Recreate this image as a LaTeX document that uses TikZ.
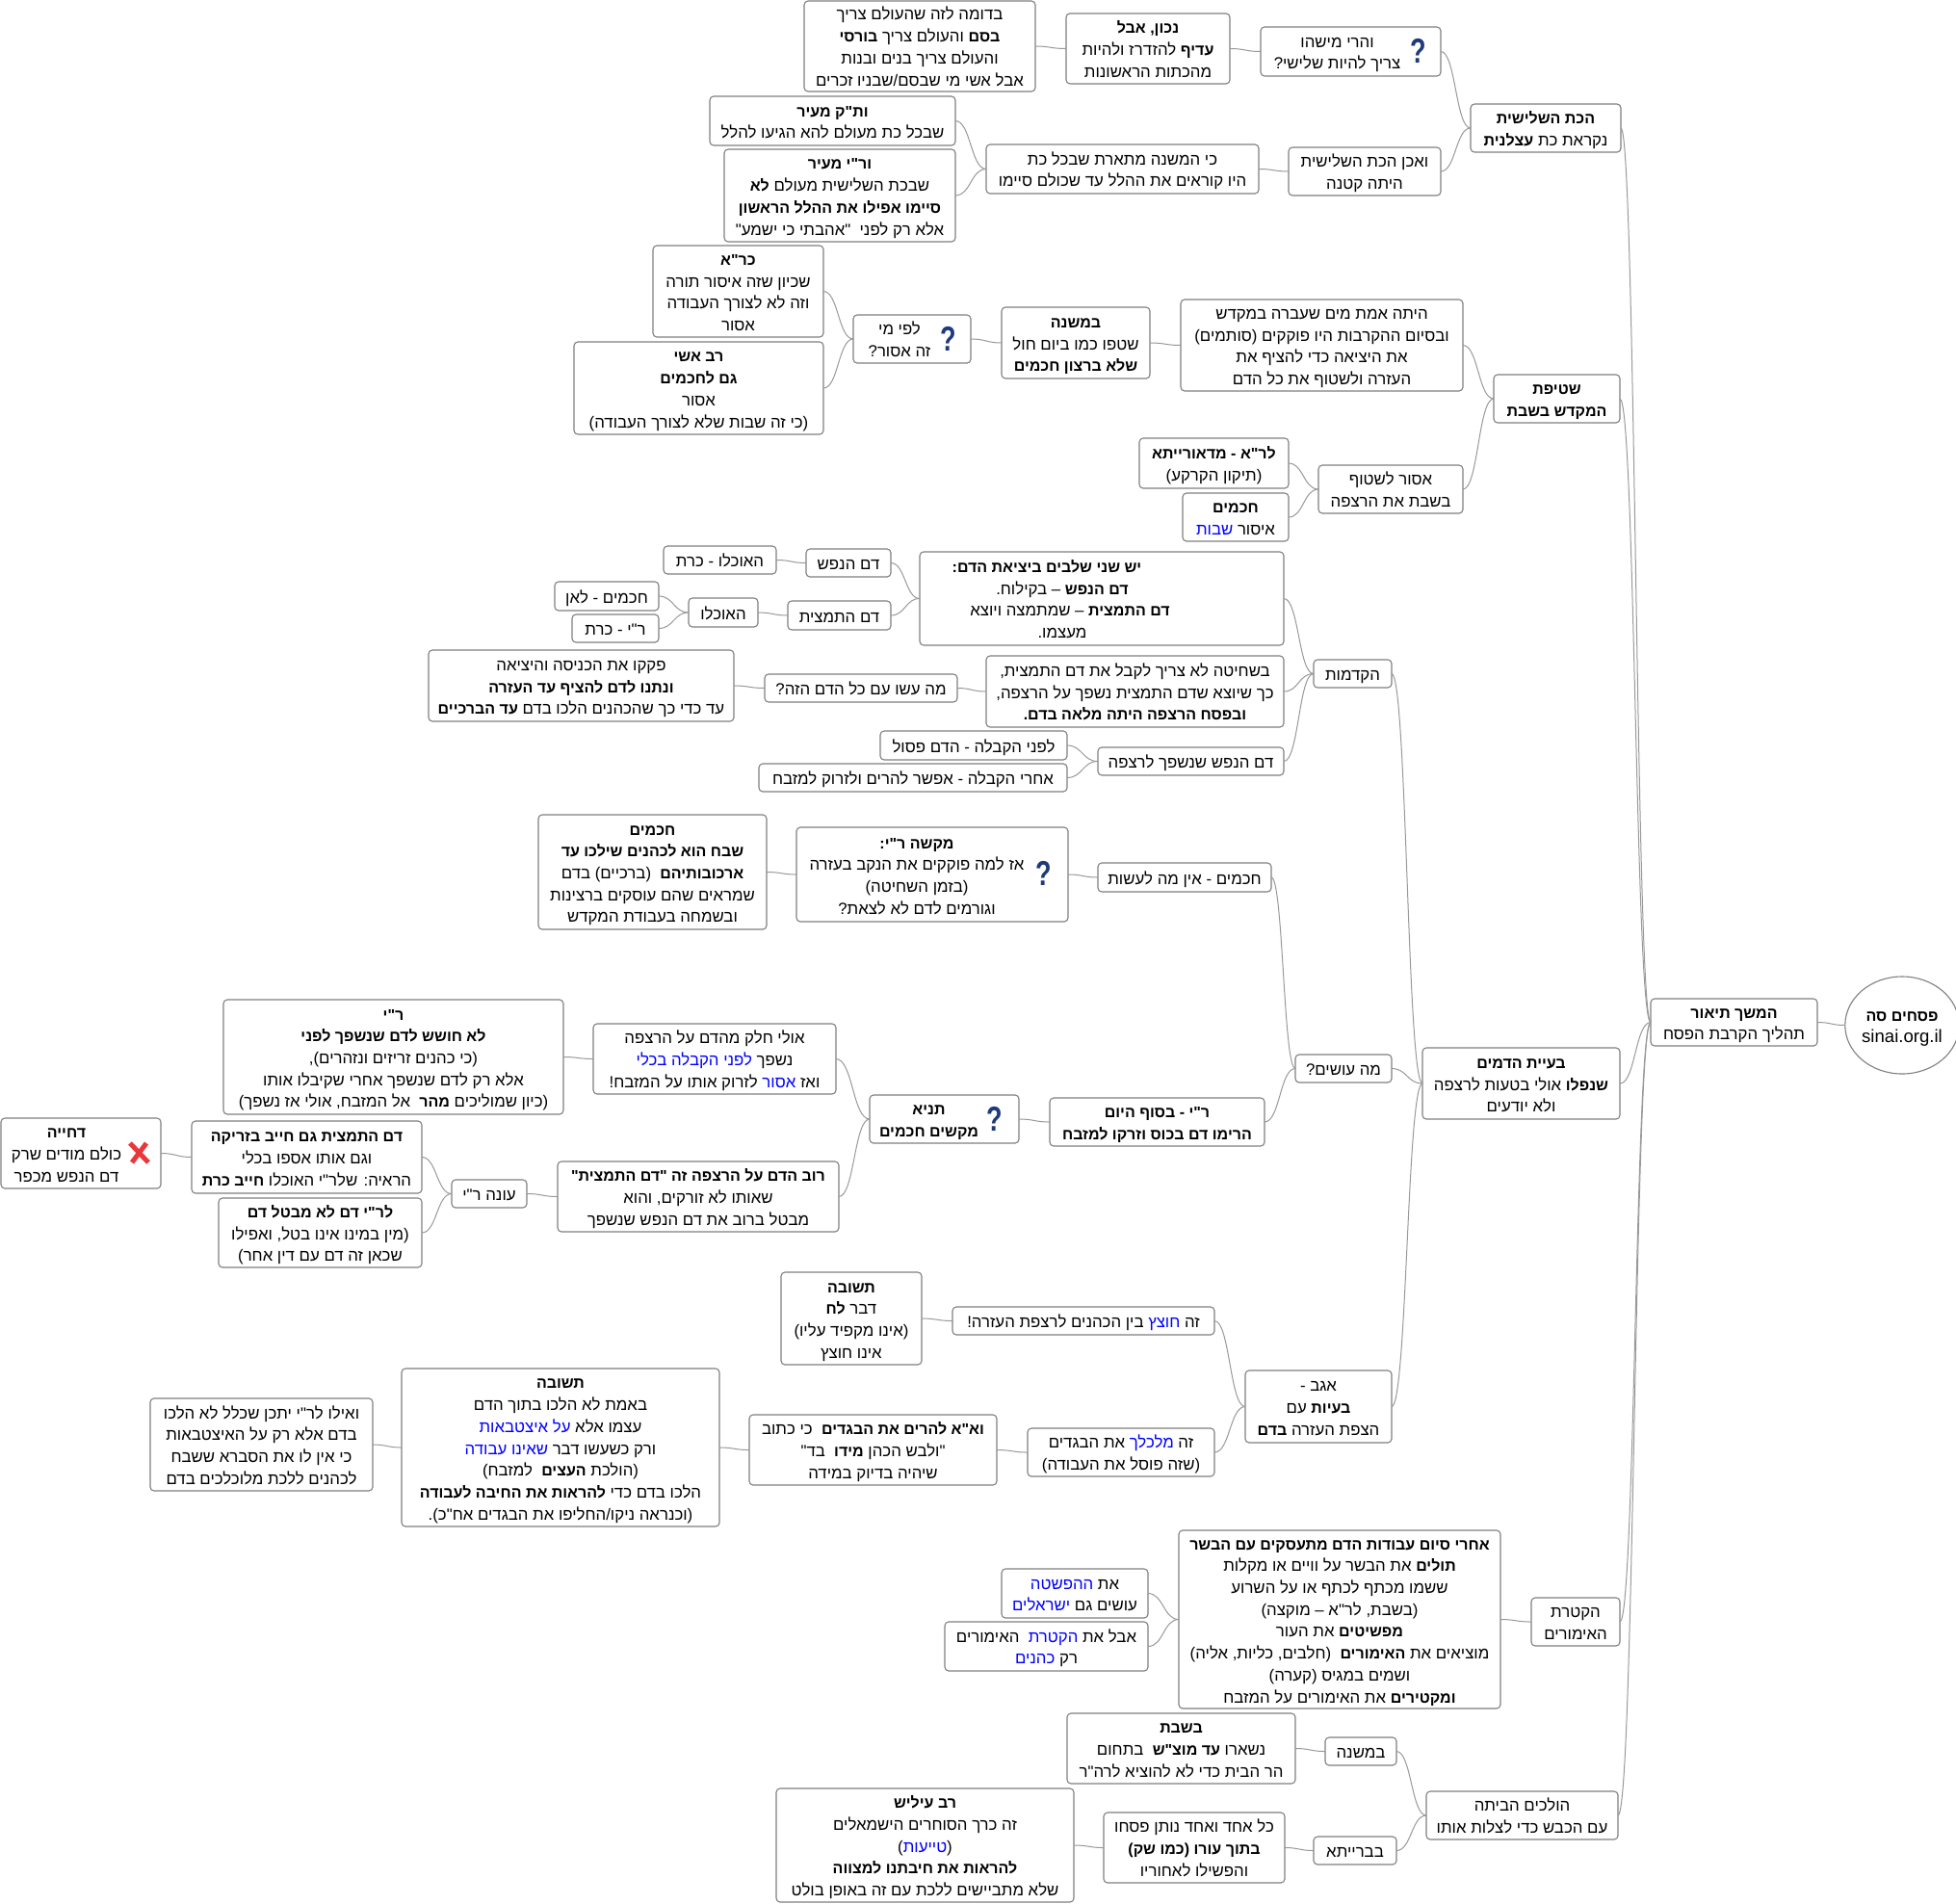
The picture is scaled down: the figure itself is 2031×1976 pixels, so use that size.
\documentclass[tikz,border=0pt]{standalone}
\usepackage{fontspec}
\newfontfamily\hebfont[Script=Hebrew]{Liberation Sans}
\usetikzlibrary{calc,shapes.geometric}
\TeXXeTstate=1
\definecolor{boxline}{HTML}{808080}
\definecolor{linkline}{HTML}{999999}
\definecolor{qblue}{HTML}{1F3A7A}
\definecolor{xred}{HTML}{E8383C}
\newcommand{\rl}[1]{\beginR #1\endR}
\newcommand{\hb}[1]{{\fontsize{16}{22.7}\selectfont\bfseries #1}}
% inside a right-to-left run the order of specials is reversed on output
\newcommand{\hc}[1]{\special{color pop}#1\special{color push rgb 0 0 1}}
\tikzset{
  mapbox/.style={draw=boxline,fill=white,line width=1.1pt,rounded corners=4pt,inner sep=0pt,outer sep=0pt,
    text=black,font=\hebfont\fontsize{16.8}{22.7}\selectfont},
  rootnode/.style={ellipse,draw=boxline,fill=white,line width=1.1pt,inner sep=0pt,outer sep=0pt,
    font=\hebfont\fontsize{16}{22.7}\selectfont},
  linkline/.style={draw=linkline,line width=1pt},
  qmark/.style={text=qblue,inner sep=0pt,xscale=0.75,font=\hebfont\fontsize{36}{36}\selectfont\bfseries},
  xmark/.style={draw=xred,line width=5pt}
}
\newcommand{\bx}[6][0]{%
  \pgfmathsetmacro\bw{#5-#3}\pgfmathsetmacro\bh{#6-#4}%
  \pgfmathsetmacro\cx{(#3+#5)/2}\pgfmathsetmacro\cy{(#4+#6)/2}%
  \node[mapbox,minimum width=\bw pt,minimum height=\bh pt] (#2) at (\cx,\cy) {\bxbody{#1}};}
\newcommand{\bxbody}[1]{\raisebox{-2.5pt}[\height][\depth]{\begin{tabular}{@{}c@{}}\bxtext\end{tabular}}\kern\dimexpr#1pt*2\relax}
\newcommand{\lnk}[2]{\draw[linkline] let \p1=(#1.east),\p2=(#2.west),\n1={(\x2-\x1)*0.5} in (#1.east) .. controls +(\n1,0) and +(-\n1,0) .. (#2.west);}
\newcommand{\tb}[7][0]{\def\bxtext{#7}\bx[#1]{#2}{#3}{#4}{#5}{#6}}
\begin{document}
\begin{tikzpicture}[x=1pt,y=-1pt]
\useasboundingbox[fill=white] (0,0) rectangle (2031,1976);
\tb{a1}{835}{1}{1075}{95}{\rl{בדומה לזה שהעולם צריך}\\\rl{\hb{בסם} והעולם צריך \hb{בורסי}}\\\rl{והעולם צריך בנים ובנות}\\\rl{אבל אשי מי שבסם/שבניו זכרים}}
\tb{a2}{1107}{14}{1277}{87}{\rl{\hb{נכון, אבל}}\\\rl{\hb{עדיף} להזדרז ולהיות}\\\rl{מהכתות הראשונות}}
\tb[14]{a3}{1309}{28}{1496}{79}{\rl{והרי מישהו}\\\rl{צריך להיות שלישי?}}
\tb{a4}{1527}{108}{1683}{158}{\rl{\hb{הכת השלישית}}\\\rl{נקראת כת \hb{עצלנית}}}
\tb{b1}{737}{100}{992}{151}{\rl{\hb{ות"ק מעיר}}\\\rl{שבכל כת מעולם להא הגיעו להלל}}
\tb{b2}{752}{155}{992}{251}{\rl{\hb{ור"י מעיר}}\\\rl{שבכת השלישית מעולם \hb{לא}}\\\rl{\hb{סיימו אפילו את ההלל הראשון}}\\\rl{אלא רק לפני~~"אהבתי כי ישמע"}}
\tb{b3}{1024}{150}{1307}{201}{\rl{כי המשנה מתארת שבכל כת}\\\rl{היו קוראים את ההלל עד שכולם סיימו}}
\tb{b4}{1338}{153}{1496}{203}{\rl{ואכן הכת השלישית}\\\rl{היתה קטנה}}
\tb{c1}{678}{255}{855}{350}{\rl{\hb{כר"א}}\\\rl{שכיון שזה איסור תורה}\\\rl{וזה לא לצורך העבודה}\\\rl{אסור}}
\tb{c2}{596}{355}{855}{451}{\rl{\hb{רב אשי}}\\\rl{\hb{גם לחכמים}}\\\rl{אסור}\\\rl{(כי זה שבות שלא לצורך העבודה)}}
\tb[13]{c3}{886}{327}{1008}{377}{\rl{לפי מי}\\\rl{זה אסור?}}
\tb{c4}{1040}{319}{1194}{393}{\rl{\hb{במשנה}}\\\rl{שטפו כמו ביום חול}\\\rl{\hb{שלא ברצון חכמים}}}
\tb{c5}{1226}{311}{1519}{406}{\rl{היתה אמת מים שעברה במקדש}\\\rl{ובסיום ההקרבות היו פוקקים (סותמים)}\\\rl{את היציאה כדי להציף את}\\\rl{העזרה ולשטוף את כל הדם}}
\tb{c6}{1551}{389}{1682}{439}{\rl{\hb{שטיפת}}\\\rl{\hb{המקדש בשבת}}}
\tb{d1}{1183}{455}{1338}{507}{\rl{\hb{לר"א - מדאורייתא}}\\\rl{(תיקון הקרקע)}}
\tb{d2}{1228}{512}{1338}{562}{\rl{\hb{חכמים}}\\\rl{איסור \hc{שבות}}}
\tb{d3}{1369}{483}{1519}{533}{\rl{אסור לשטוף}\\\rl{בשבת את הרצפה}}
\tb{e1}{689}{567}{806}{596}{\rl{האוכלו - כרת}}
\tb{e2}{837}{570}{925}{599}{\rl{דם הנפש}}
\tb{e3}{576}{604}{684}{634}{\rl{חכמים - לאן}}
\tb{e4}{594}{638}{684}{667}{\rl{ר"י - כרת}}
\tb{e5}{715}{621}{787}{651}{\rl{האוכלו}}
\tb{e6}{818}{624}{925}{654}{\rl{דם התמצית}}
\tb[41]{e7}{955}{573}{1333}{670}{\rl{\hb{יש שני שלבים ביציאת הדם:}}\kern32pt\\\rl{\hb{דם הנפש} – בקילוח.}\\\kern16pt\rl{\hb{דם התמצית} – שמתמצה ויוצא}\\\rl{מעצמו.}}
\tb{f1}{445}{675}{762}{749}{\rl{פקקו את הכניסה והיציאה}\\\rl{\hb{ונתנו לדם להציף עד העזרה}}\\\rl{עד כדי כך שהכהנים הלכו בדם \hb{עד הברכיים}}}
\tb{f2}{794}{700}{994}{729}{\rl{מה עשו עם כל הדם הזה?}}
\tb{f3}{1024}{681}{1333}{755}{\rl{בשחיטה לא צריך לקבל את דם התמצית,}\\\rl{כך שיוצא שדם התמצית נשפך על הרצפה,}\\\rl{\hb{ובפסח הרצפה היתה מלאה בדם.}}}
\tb{g1}{914}{759}{1108}{789}{\rl{לפני הקבלה - הדם פסול}}
\tb{g2}{788}{793}{1108}{822}{\rl{אחרי הקבלה - אפשר להרים ולזרוק למזבח}}
\tb{g3}{1140}{776}{1333}{805}{\rl{דם הנפש שנשפך לרצפה}}
\tb{g4}{1364}{685}{1445}{714}{\rl{הקדמות}}
\tb{h1}{559}{846}{796}{965}{\rl{\hb{חכמים}}\\\rl{\hb{שבח הוא לכהנים שילכו עד}}\\\rl{\hb{ארכובותיהם}~~(ברכיים) בדם}\\\rl{שמראים שהם עוסקים ברצינות}\\\rl{ובשמחה בעבודת המקדש}}
\tb[16]{h2}{827}{859}{1109}{957}{\rl{\hb{מקשה ר"י:}}\\\rl{אז למה פוקקים את הנקב בעזרה}\\\rl{(בזמן השחיטה)}\\\rl{וגורמים לדם לא לצאת?}}
\tb{h3}{1140}{896}{1320}{926}{\rl{חכמים - אין מה לעשות}}
\tb{i1}{616}{1063}{868}{1136}{\rl{אולי חלק מהדם על הרצפה}\\\rl{נשפך \hc{לפני הקבלה בכלי}}\\\rl{ואז \hc{אסור} לזרוק אותו על המזבח!}}
\tb{i2}{1345}{1095}{1445}{1124}{\rl{מה עושים?}}
\tb{j1}{232}{1038}{585}{1157}{\rl{\hb{ר"י}}\\\rl{\hb{לא חושש לדם שנשפך לפני}}\\\rl{(כי כהנים זריזים ונזהרים),}\\\rl{אלא רק לדם שנשפך אחרי שקיבלו אותו}\\\rl{(כיון שמוליכים \hb{מהר}~~אל המזבח, אולי אז נשפך)}}
\tb[15]{j2}{1}{1161}{167}{1234}{\rl{\hb{דחייה}}\\\rl{כולם מודים שרק}\\\rl{דם הנפש מכפר}}
\tb{j3}{199}{1164}{438}{1239}{\rl{\hb{דם התמצית גם חייב בזריקה}}\\\rl{וגם אותו אספו בכלי}\\\rl{הראיה: שלר"י האוכלו \hb{חייב כרת}}}
\tb{j4}{227}{1244}{438}{1316}{\rl{\hb{לר"י דם לא מבטל דם}}\\\rl{(מין במינו אינו בטל, ואפילו}\\\rl{שכאן זה דם עם דין אחר)}}
\tb{j5}{469}{1225}{547}{1254}{\rl{עונה ר"י}}
\tb{j6}{579}{1206}{871}{1279}{\rl{\hb{רוב הדם על הרצפה זה "דם התמצית"}}\\\rl{שאותו לא זורקים, והוא}\\\rl{מבטל ברוב את דם הנפש שנשפך}}
\tb[16]{k1}{903}{1137}{1058}{1187}{\rl{\hb{תניא}}\\\rl{\hb{מקשים חכמים}}}
\tb{k2}{1090}{1140}{1313}{1190}{\rl{\hb{ר"י - בסוף היום}}\\\rl{\hb{הרימו דם בכוס וזרקו למזבח}}}
\tb{k3}{1477}{1088}{1682}{1162}{\rl{\hb{בעיית הדמים}}\\\rl{\hb{שנפלו} אולי בטעות לרצפה}\\\rl{ולא יודעים}}
\tb{k4}{1714}{1037}{1887}{1086}{\rl{\hb{המשך תיאור}}\\\rl{תהליך הקרבת הפסח}}
\tb{l1}{811}{1321}{957}{1417}{\rl{\hb{תשובה}}\\\rl{דבר \hb{לח}}\\\rl{(אינו מקפיד עליו)}\\\rl{אינו חוצץ}}
\tb{l2}{989}{1357}{1261}{1386}{\rl{זה \hc{חוצץ} בין הכהנים לרצפת העזרה!}}
\tb{l3}{1293}{1423}{1445}{1498}{\rl{אגב -}\\\rl{\hb{בעיות} עם}\\\rl{הצפת העזרה \hb{בדם}}}
\tb{m1}{156}{1452}{387}{1548}{\rl{ואילו לר"י יתכן שכלל לא הלכו}\\\rl{בדם אלא רק על האיצטבאות}\\\rl{כי אין לו את הסברא ששבח}\\\rl{לכהנים ללכת מלוכלכים בדם}}
\tb{m2}{417}{1421}{747}{1585}{\rl{\hb{תשובה}}\\\rl{באמת לא הלכו בתוך הדם}\\\rl{עצמו אלא \hc{על איצטבאות}}\\\rl{ורק כשעשו דבר \hc{שאינו עבודה}}\\\rl{(הולכת \hb{העצים}~~למזבח)}\\\rl{הלכו בדם כדי \hb{להראות את החיבה לעבודה}}\\\rl{(וכנראה ניקו/החליפו את הבגדים אח"כ).}}
\tb{m3}{778}{1469}{1035}{1542}{\rl{\hb{וא"א להרים את הבגדים}~~כי כתוב}\\\rl{"ולבש הכהן \hb{מידו}~~בד"}\\\rl{שיהיה בדיוק במידה}}
\tb{m4}{1067}{1483}{1261}{1533}{\rl{זה \hc{מלכלך} את הבגדים}\\\rl{(שזה פוסל את העבודה)}}
\tb{n1}{1040}{1629}{1192}{1680}{\rl{את \hc{ההפשטה}}\\\rl{עושים גם \hc{ישראלים}}}
\tb{n2}{981}{1684}{1192}{1735}{\rl{אבל את \hc{הקטרת}~~האימורים}\\\rl{רק \hc{כהנים}}}
\tb{n3}{1224}{1589}{1558}{1774}{\rl{\hb{אחרי סיום עבודות הדם מתעסקים עם הבשר}}\\\rl{\hb{תולים} את הבשר על וויים או מקלות}\\\rl{ששמו מכתף לכתף או על השרוע}\\\rl{(בשבת, לר"א – מוקצה)}\\\rl{\hb{מפשיטים} את העור}\\\rl{מוציאים את \hb{האימורים}~~(חלבים, כליות, אליה)}\\\rl{ושמים במגיס (קערה)}\\\rl{\hb{ומקטירים} את האימורים על המזבח}}
\tb{n4}{1590}{1659}{1682}{1709}{\rl{הקטרת}\\\rl{האימורים}}
\tb{o1}{1108}{1779}{1345}{1852}{\rl{\hb{בשבת}}\\\rl{נשארו \hb{עד מוצ"ש}~~בתחום}\\\rl{הר הבית כדי לא להוציא לרה"ר}}
\tb{o2}{1376}{1804}{1450}{1833}{\rl{במשנה}}
\tb{o3}{1481}{1860}{1680}{1910}{\rl{הולכים הביתה}\\\rl{עם הכבש כדי לצלות אותו}}
\tb{o4}{806}{1857}{1115}{1975}{\rl{\hb{רב עיליש}}\\\rl{זה כרך הסוחרים הישמאלים}\\\rl{(\hc{טייעות})}\\\rl{\hb{להראות את חיבתנו למצווה}}\\\rl{שלא מתביישים ללכת עם זה באופן בולט}}
\tb{o5}{1146}{1882}{1334}{1955}{\rl{כל אחד ואחד נותן פסחו}\\\rl{\hb{בתוך עורו (כמו שק)}}\\\rl{והפשילו לאחוריו}}
\tb{o6}{1364}{1907}{1450}{1936}{\rl{בברייתא}}
\node[rootnode,minimum width=110pt,minimum height=101pt] (root) at (1975,1064.5) {\raisebox{-2.5pt}[\height][\depth]{\begin{tabular}{@{}c@{}}\rl{\hb{פסחים סה}}\\{\fontsize{18.6}{22.7}\selectfont sinai.org.il}\end{tabular}}};
\node[qmark] (q1) at (1473,53) {?};
\node[qmark] (q2) at (985,352) {?};
\node[qmark] (q3) at (1084,907) {?};
\node[qmark] (q4) at (1033,1162) {?};
\coordinate (x1) at (135,1187);\coordinate (x2) at (154,1207);\coordinate (x3) at (152,1187);\coordinate (x4) at (137,1207);
\draw[xmark] (x1) -- (x2);\draw[xmark] (x3) -- (x4);
\lnk{k4}{root}
\lnk{a4}{k4}\lnk{c6}{k4}\lnk{k3}{k4}\lnk{n4}{k4}\lnk{o3}{k4}
\lnk{a3}{a4}\lnk{b4}{a4}\lnk{a2}{a3}\lnk{a1}{a2}\lnk{b3}{b4}\lnk{b1}{b3}\lnk{b2}{b3}
\lnk{c5}{c6}\lnk{d3}{c6}\lnk{c4}{c5}\lnk{c3}{c4}\lnk{c1}{c3}\lnk{c2}{c3}\lnk{d1}{d3}\lnk{d2}{d3}
\lnk{g4}{k3}\lnk{i2}{k3}\lnk{l3}{k3}
\lnk{e7}{g4}\lnk{f3}{g4}\lnk{g3}{g4}\lnk{e2}{e7}\lnk{e6}{e7}\lnk{e1}{e2}\lnk{e5}{e6}\lnk{e3}{e5}\lnk{e4}{e5}
\lnk{f2}{f3}\lnk{f1}{f2}\lnk{g1}{g3}\lnk{g2}{g3}
\lnk{h3}{i2}\lnk{k2}{i2}\lnk{h2}{h3}\lnk{h1}{h2}\lnk{k1}{k2}\lnk{i1}{k1}\lnk{j6}{k1}\lnk{j1}{i1}\lnk{j5}{j6}\lnk{j3}{j5}\lnk{j4}{j5}\lnk{j2}{j3}
\lnk{l2}{l3}\lnk{m4}{l3}\lnk{l1}{l2}\lnk{m3}{m4}\lnk{m2}{m3}\lnk{m1}{m2}
\lnk{n3}{n4}\lnk{n1}{n3}\lnk{n2}{n3}
\lnk{o2}{o3}\lnk{o6}{o3}\lnk{o1}{o2}\lnk{o5}{o6}\lnk{o4}{o5}
\end{tikzpicture}
\end{document}
